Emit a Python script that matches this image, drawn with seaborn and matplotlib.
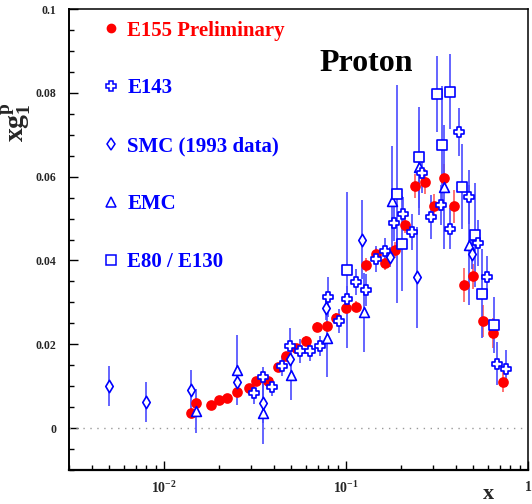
import numpy as np
import pandas as pd
import matplotlib
matplotlib.use("Agg")
import matplotlib.pyplot as plt
from matplotlib.lines import Line2D
from matplotlib.ticker import FixedLocator, MultipleLocator, LogLocator, NullFormatter
import seaborn as sns

# ---------------- data ----------------
e155_x = [0.0140, 0.0150, 0.0180, 0.0200, 0.0221, 0.0251, 0.0291, 0.0320, 0.0371, 0.0421,
          0.0470, 0.0531, 0.0603, 0.0696, 0.0783, 0.0881, 0.100, 0.113, 0.129, 0.146,
          0.164, 0.186, 0.210, 0.239, 0.271, 0.305, 0.346, 0.392, 0.443, 0.501,
          0.568, 0.642, 0.726]
e155_y = [0.0037, 0.0060, 0.0054, 0.0067, 0.0071, 0.0087, 0.0095, 0.0113, 0.0113, 0.0146,
          0.0172, 0.0190, 0.0209, 0.0241, 0.0244, 0.0263, 0.0287, 0.0290, 0.0389, 0.0416,
          0.0395, 0.0425, 0.0484, 0.0578, 0.0588, 0.0530, 0.0597, 0.0529, 0.0342, 0.0362,
          0.0255, 0.0226, 0.0111]
e155_err = [0.0010, 0.0010, 0.0008, 0.0008, 0.0008, 0.0009, 0.0009, 0.0010, 0.0010, 0.0010,
            0.0010, 0.0011, 0.0011, 0.0012, 0.0012, 0.0012, 0.0013, 0.0013, 0.0016, 0.0013,
            0.0017, 0.0019, 0.0019, 0.0029, 0.0030, 0.0029, 0.0033, 0.0040, 0.0040, 0.0030,
            0.0038, 0.0036, 0.0024]

e143_x = [0.0310, 0.0351, 0.0394, 0.0443, 0.0491, 0.0559, 0.0634, 0.0715, 0.0796, 0.0910,
          0.1017, 0.1139, 0.1288, 0.1453, 0.1638, 0.1835, 0.2064, 0.2313, 0.2626, 0.2942,
          0.3314, 0.3728, 0.4194, 0.4723, 0.5333, 0.5975, 0.6730, 0.7601]
e143_y = [0.0084, 0.0121, 0.0098, 0.0148, 0.0195, 0.0184, 0.0184, 0.0196, 0.0312, 0.0256,
          0.0307, 0.0348, 0.0330, 0.0403, 0.0422, 0.0490, 0.0511, 0.0468, 0.0609, 0.0504,
          0.0533, 0.0476, 0.0706, 0.0552, 0.0441, 0.0360, 0.0154, 0.0142]
e143_err = [0.0026, 0.0024, 0.0021, 0.0024, 0.0043, 0.0029, 0.0024, 0.0024, 0.0048, 0.0029,
            0.0031, 0.0031, 0.0038, 0.0031, 0.0031, 0.0043, 0.0040, 0.0043, 0.0048, 0.0052,
            0.0048, 0.0048, 0.0057, 0.0064, 0.0055, 0.0050, 0.0052, 0.0045]

smc_x = [0.0050, 0.0080, 0.0140, 0.0251, 0.0350, 0.0493, 0.0774, 0.1229, 0.1745, 0.2446, 0.4924]
smc_y = [0.0100, 0.0063, 0.0091, 0.0110, 0.0061, 0.0165, 0.0287, 0.0450, 0.0408, 0.0360, 0.0416]
smc_err = [0.0048, 0.0048, 0.0048, 0.0036, 0.0048, 0.0015, 0.0030, 0.0095, 0.0024, 0.0120, 0.0036]

emc_x = [0.0150, 0.0251, 0.0350, 0.0501, 0.0783, 0.1256, 0.1783, 0.2518, 0.3455, 0.4741]
emc_y = [0.0041, 0.0138, 0.0037, 0.0126, 0.0216, 0.0276, 0.0543, 0.0622, 0.0575, 0.0436]
emc_err = [0.0052, 0.0083, 0.0076, 0.0060, 0.0095, 0.0095, 0.0130, 0.0114, 0.0148, 0.0143]

e80_x = [0.1009, 0.1913, 0.2023, 0.2518, 0.3150, 0.3357, 0.3742, 0.4356, 0.5095, 0.5566, 0.6506]
e80_y = [0.0378, 0.0559, 0.0440, 0.0646, 0.0797, 0.0676, 0.0803, 0.0576, 0.0461, 0.0321, 0.0245]
e80_err = [0.0186, 0.0260, 0.0114, 0.0120, 0.0090, 0.0140, 0.0089, 0.0102, 0.0124, 0.0107, 0.0067]

labels = ["E155 Preliminary", "E143", "SMC (1993 data)", "EMC", "E80 / E130"]
x_ticks = [0.01, 0.1, 1.0]
x_ticklabels = [r"$\mathbf{10^{-2}}$", r"$\mathbf{10^{-1}}$", r"$\mathbf{1}$"]
y_ticks = [0.0, 0.02, 0.04, 0.06, 0.08, 0.1]
y_ticklabels = ["0", "0.02", "0.04", "0.06", "0.08", "0.1"]

# ---------------- style ----------------
sns.set_theme(style="ticks")
plt.rcParams["font.family"] = ["Liberation Serif", "DejaVu Serif"]
plt.rcParams["font.weight"] = "bold"
plt.rcParams["mathtext.fontset"] = "custom"
plt.rcParams["mathtext.rm"] = "Liberation Serif:bold"
plt.rcParams["mathtext.bf"] = "Liberation Serif:bold"
plt.rcParams["mathtext.it"] = "Liberation Serif:bold"

RED = "#ff0000"
BLUE = "#0000ff"
ERR_RED = "#ff5a5a"
ERR_BLUE = "#4a4aff"

fig = plt.figure(figsize=(5.32, 5.04), dpi=100)
ax = fig.add_axes([69 / 532, 34 / 504, 459 / 532, 461 / 504])
ax.set_facecolor("white")

ax.axhline(0, color="#999999", lw=1.0, ls=(0, (1, 4)), zorder=1)

datasets = [
    (e155_x, e155_y, e155_err, "o", RED, RED, ERR_RED, 42),
    (emc_x, emc_y, emc_err, "^", "white", BLUE, ERR_BLUE, 50),
    (smc_x, smc_y, smc_err, "d", "white", BLUE, ERR_BLUE, 40),
    (e80_x, e80_y, e80_err, "s", "white", BLUE, ERR_BLUE, 55),
    (e143_x, e143_y, e143_err, "P", "white", BLUE, ERR_BLUE, 60),
]
for i, (xs, ys, es, mk, fc, ec, errc, s) in enumerate(datasets):
    df = pd.DataFrame({"x": xs, "y": ys, "err": es})
    ax.errorbar(df["x"], df["y"], yerr=df["err"], fmt="none", ecolor=errc,
                elinewidth=1.2, capsize=0, zorder=2 + i * 0.1)
    sns.scatterplot(data=df, x="x", y="y", marker=mk, color=fc, edgecolor=ec,
                    linewidth=1.2, s=s, ax=ax, legend=False, zorder=4 + i * 0.1)

ax.set_xscale("log")
ax.set_xlim(0.003, 1.0)
ax.set_ylim(-0.01, 0.1)

ax.xaxis.set_major_locator(FixedLocator(x_ticks))
ax.set_xticks(x_ticks)
ax.set_xticklabels(x_ticklabels)
ax.xaxis.set_minor_locator(LogLocator(base=10, subs=np.arange(2, 10), numticks=20))
ax.xaxis.set_minor_formatter(NullFormatter())
ax.set_yticks(y_ticks)
ax.set_yticklabels(y_ticklabels)
ax.yaxis.set_minor_locator(MultipleLocator(0.005))

ax.tick_params(axis="both", which="major", direction="in", length=6.5, width=1.0,
               color="black", top=False, right=False)
ax.tick_params(axis="both", which="minor", direction="in", length=3.5, width=1.0,
               color="black", top=False, right=False)
ax.tick_params(axis="y", which="major", labelsize=8.5, pad=9)
ax.tick_params(axis="x", which="major", labelsize=10, pad=7)
for lab in ax.get_yticklabels() + ax.get_xticklabels():
    lab.set_fontweight("bold")

for sp in ax.spines.values():
    sp.set_color("black")
    sp.set_linewidth(1.1)
ax.spines["left"].set_linewidth(1.4)
ax.spines["bottom"].set_linewidth(1.6)

ax.set_xlabel("x", fontsize=16, fontweight="bold")
ax.xaxis.set_label_coords(0.913, -0.03)
ax.set_ylabel(r"$\mathbf{xg_1^p}$", fontsize=20)
ax.yaxis.set_label_coords(-0.078, 0.755)

ax.text(0.647, 0.882, "Proton", transform=ax.transAxes, ha="center", va="center",
        fontsize=23, fontweight="bold", color="black")

handles = [
    Line2D([], [], ls="none", marker="o", markersize=6, markerfacecolor=RED, markeredgecolor=RED),
    Line2D([], [], ls="none", marker="P", markersize=7, markerfacecolor="white", markeredgecolor=BLUE, markeredgewidth=1.1),
    Line2D([], [], ls="none", marker="d", markersize=6, markerfacecolor="white", markeredgecolor=BLUE, markeredgewidth=1.1),
    Line2D([], [], ls="none", marker="^", markersize=7, markerfacecolor="white", markeredgecolor=BLUE, markeredgewidth=1.1),
    Line2D([], [], ls="none", marker="s", markersize=7, markerfacecolor="white", markeredgecolor=BLUE, markeredgewidth=1.1),
]
leg = ax.legend(handles, labels, loc="upper left", bbox_to_anchor=(0.068, 0.975),
                frameon=False, handlelength=1.0, handletextpad=0.3,
                labelspacing=1.82, borderpad=0, borderaxespad=0,
                labelcolor=[RED, BLUE, BLUE, BLUE, BLUE],
                prop={"weight": "bold", "size": 15})

fig.savefig("out.png", dpi=100, facecolor="white")
